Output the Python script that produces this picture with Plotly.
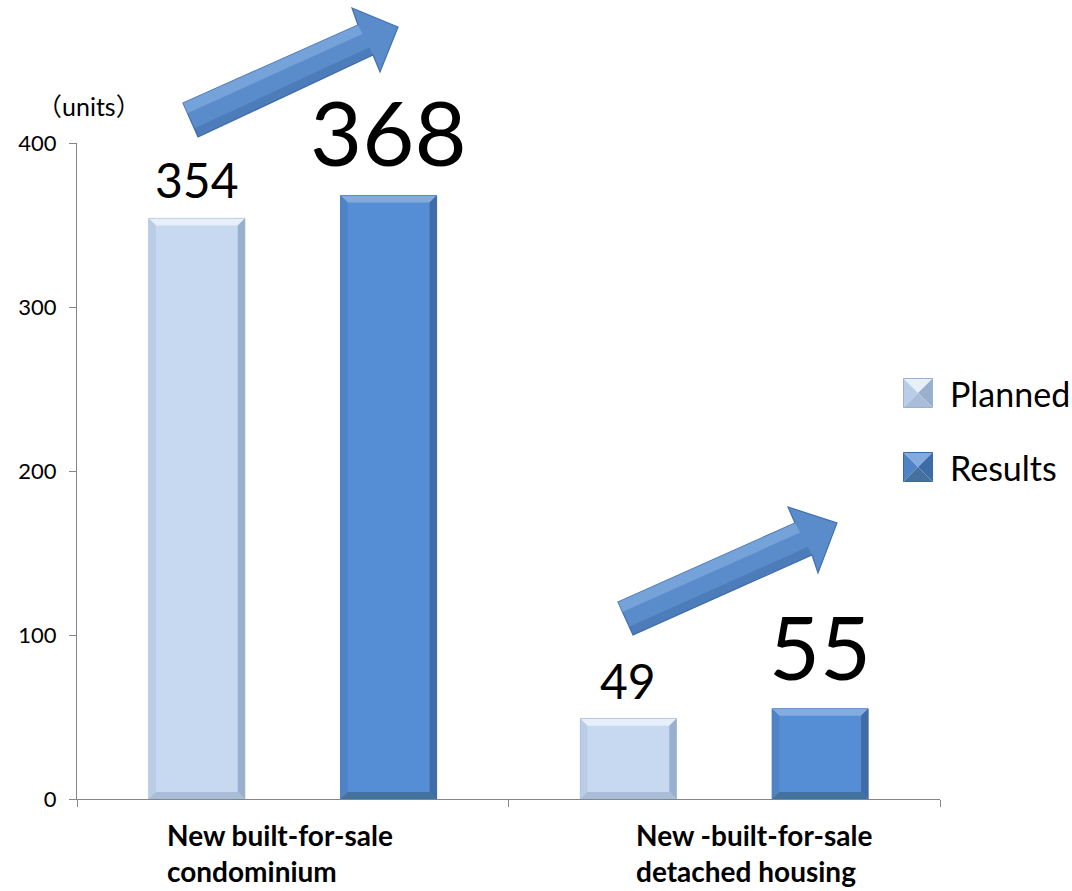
import plotly.graph_objects as go

# ---- data -------------------------------------------------------------
categories = ["New built-for-sale condominium", "New -built-for-sale detached housing"]
category_labels = ["New built-for-sale<br>condominium", "New -built-for-sale<br>detached housing"]
series_names = ["Planned", "Results"]
planned = [354, 49]
results = [368, 55]
y_ticks = [0, 100, 200, 300, 400]

# ---- layout geometry ----------------------------------------------------
W, H = 1072, 891
M = dict(l=77, r=132, t=143, b=92)
PW = W - M["l"] - M["r"]
PH = H - M["t"] - M["b"]
Y_MAX = 400
BARGAP, GROUPGAP = 0.111, 0.5
slot = (1 - BARGAP) / 2
bar_w = slot * (1 - GROUPGAP)
offsets = [-slot / 2, slot / 2]

FONT = "Lato, 'Noto Sans CJK JP', sans-serif"

series = [
    dict(name=series_names[0], values=planned, color="#C6D9F1", line="#9AB2D0",
         top="#E6EFFA", left="#B9CDE7", right="#98AFCD", bottom="#A9BDD8",
         label_sizes=[48, 48]),
    dict(name=series_names[1], values=results, color="#558ED5", line="#3A6AA6",
         top="#83ABE0", left="#4E83C5", right="#3F6CA7", bottom="#44729F",
         label_sizes=[90, 88]),
]


def poly_path(pts):
    return "M " + " L ".join(f"{a},{b}" for a, b in pts) + " Z"


def to_paper(pts):
    return [((px - M["l"]) / PW, (H - M["b"] - py) / PH) for px, py in pts]


fig = go.Figure()
for s in series:
    fig.add_trace(go.Bar(
        x=categories, y=s["values"], name=s["name"],
        marker=dict(color=s["color"], line=dict(color=s["line"], width=1)),
        hoverinfo="skip", showlegend=False,
    ))

# bevelled edges on every bar, sized in pixels and converted to data units
bev_px = 7
dx = bev_px / (PW / 2)
dy = bev_px * Y_MAX / PH
shapes = []
for k, s in enumerate(series):
    for i, v in enumerate(s["values"]):
        x0 = i + offsets[k] - bar_w / 2
        x1 = i + offsets[k] + bar_w / 2
        y0, y1 = 0, v
        polys = [
            (s["top"], [(x0, y1), (x1, y1), (x1 - dx, y1 - dy), (x0 + dx, y1 - dy)]),
            (s["left"], [(x0, y1), (x0 + dx, y1 - dy), (x0 + dx, y0 + dy), (x0, y0)]),
            (s["right"], [(x1, y1), (x1 - dx, y1 - dy), (x1 - dx, y0 + dy), (x1, y0)]),
            (s["bottom"], [(x0, y0), (x0 + dx, y0 + dy), (x1 - dx, y0 + dy), (x1, y0)]),
        ]
        for col, pts in polys:
            shapes.append(dict(type="path", xref="x", yref="y", path=poly_path(pts),
                               fillcolor=col, line=dict(width=0), layer="above"))

# trend arrows drawn in pixel space, converted to paper coordinates
arrow_outlines = [
    [(183, 103), (358, 25), (352, 8), (398, 27), (380, 72), (373, 55), (198, 137)],
    [(618, 602), (795, 523), (788, 507), (837, 523), (818, 573), (812, 555), (633, 635)],
]
for pts in arrow_outlines:
    shapes.append(dict(type="path", xref="paper", yref="paper",
                       path=poly_path(to_paper(pts)),
                       fillcolor="#5A8BCB", line=dict(color="#4271AE", width=1.2),
                       layer="above"))
    # light strip along the upper edge of the shaft
    (tx, ty), (hx, hy), (bx, by), (jx, jy) = pts[0], pts[1], pts[6], pts[5]
    f = 0.3
    strip = [(tx, ty), (hx, hy),
             (hx + (jx - hx) * f, hy + (jy - hy) * f),
             (tx + (bx - tx) * f, ty + (by - ty) * f)]
    shapes.append(dict(type="path", xref="paper", yref="paper",
                       path=poly_path(to_paper(strip)),
                       fillcolor="rgba(150,190,235,0.45)", line=dict(width=0),
                       layer="above"))
    # darker band along the lower edge of the shaft
    g = 0.25
    band = [(bx, by), (jx, jy),
            (jx + (hx - jx) * g, jy + (hy - jy) * g),
            (bx + (tx - bx) * g, by + (ty - by) * g)]
    shapes.append(dict(type="path", xref="paper", yref="paper",
                       path=poly_path(to_paper(band)),
                       fillcolor="rgba(40,80,140,0.25)", line=dict(width=0),
                       layer="above"))

# legend: pyramid-shaded swatches with series names
legend_cx, legend_cy, sw = 918, [393, 467], 14.5
annotations = []
for k, s in enumerate(series):
    cx, cy = legend_cx, legend_cy[k]
    tl, tr = (cx - sw, cy - sw), (cx + sw, cy - sw)
    bl, br = (cx - sw, cy + sw), (cx + sw, cy + sw)
    c = (cx, cy)
    for col, tri in [(s["top"], [tl, tr, c]), (s["left"], [tl, bl, c]),
                     (s["right"], [tr, br, c]), (s["bottom"], [bl, br, c])]:
        shapes.append(dict(type="path", xref="paper", yref="paper",
                           path=poly_path(to_paper(tri)), fillcolor=col,
                           line=dict(width=0)))
    shapes.append(dict(type="path", xref="paper", yref="paper",
                       path=poly_path(to_paper([tl, tr, br, bl])),
                       fillcolor="rgba(0,0,0,0)", line=dict(color=s["line"], width=1)))
    px, py = to_paper([(948, cy)])[0]
    annotations.append(dict(x=px, y=py, xref="paper", yref="paper", text=s["name"],
                            showarrow=False, xanchor="left", yanchor="middle",
                            font=dict(family=FONT, size=34, color="#000000")))

# value labels above the bars
for k, s in enumerate(series):
    for i, v in enumerate(s["values"]):
        annotations.append(dict(
            x=i + offsets[k], y=v, xref="x", yref="y", text=str(v),
            showarrow=False, yanchor="bottom", yshift=8,
            font=dict(family=FONT, size=s["label_sizes"][i], color="#000000"),
        ))

# category labels, left-aligned in two lines
label_shift = [-128, -90]
for i, lab in enumerate(category_labels):
    annotations.append(dict(
        x=i, y=0, xref="x", yref="paper", text=f"<b>{lab}</b>", showarrow=False,
        xanchor="left", yanchor="top", align="left", xshift=label_shift[i], yshift=-17,
        font=dict(family=FONT, size=28, color="#000000"),
    ))

annotations.append(dict(
    x=-0.049, y=1.03, xref="paper", yref="paper", text="（units）", showarrow=False,
    xanchor="left", yanchor="bottom", font=dict(family=FONT, size=25, color="#000000"),
))

fig.update_layout(
    width=W, height=H, margin=M,
    paper_bgcolor="white", plot_bgcolor="white",
    barmode="group", bargap=BARGAP, bargroupgap=GROUPGAP,
    font=dict(family=FONT, color="#000000"),
    shapes=shapes, annotations=annotations,
    showlegend=False,
    xaxis=dict(type="category", showticklabels=False, showgrid=False,
               showline=True, linecolor="#868686", linewidth=1,
               ticks="outside", ticklen=7, tickcolor="#868686", tickson="boundaries",
               range=[-0.5, 1.5], fixedrange=True),
    yaxis=dict(range=[0, Y_MAX], tickvals=y_ticks, showgrid=False, zeroline=False,
               showline=True, linecolor="#868686", linewidth=1,
               ticks="outside", ticklen=7, tickcolor="#868686", ticklabelstandoff=8,
               tickfont=dict(family=FONT, size=22, color="#000000"), fixedrange=True),
)

fig.write_html("out.html")
